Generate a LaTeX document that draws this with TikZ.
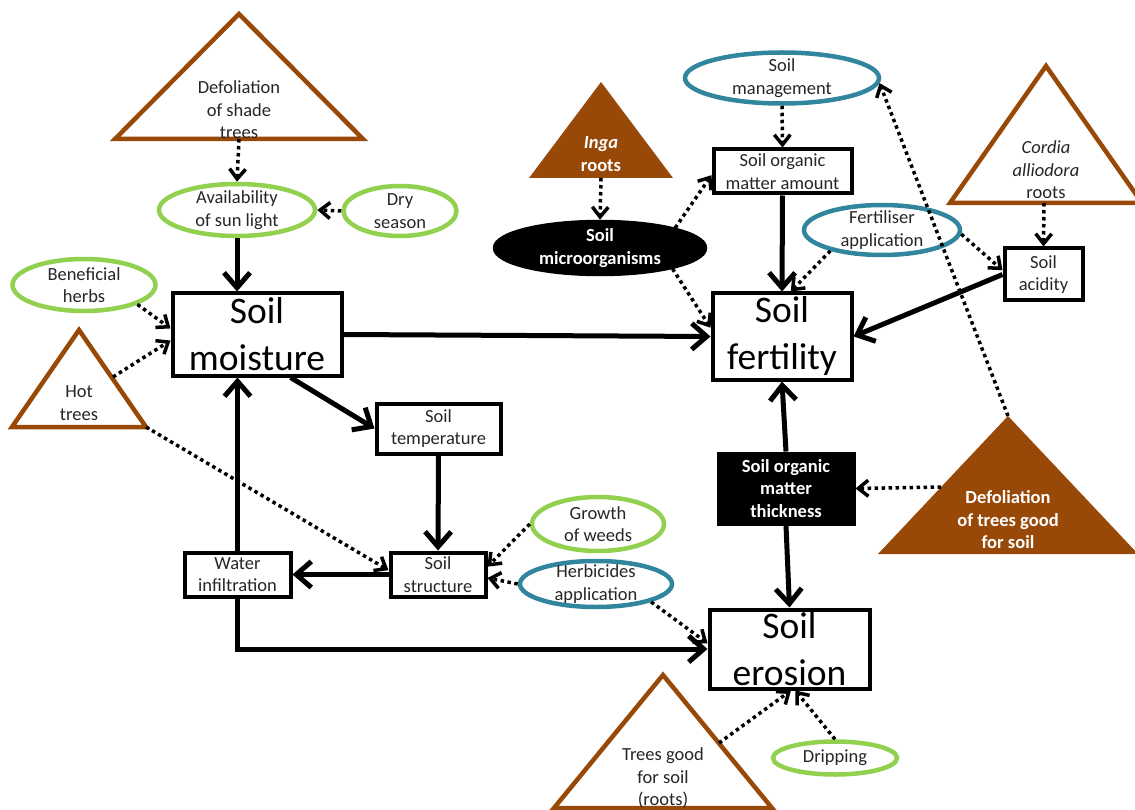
\documentclass[tikz,border=0pt]{standalone}
\usepackage{fontspec}
\setmainfont{Carlito}
\usetikzlibrary{arrows.meta,shapes.geometric,calc}

\definecolor{treebrown}{HTML}{984807}
\definecolor{herbgreen}{HTML}{92D050}
\definecolor{mgmtblue}{HTML}{31859C}

\tikzset{
  txt/.style = {font = \fontsize{18.5}{22.5}\selectfont, text = black!85, align = center},
  factor/.style = {draw, line width = 4pt, inner sep = 0pt, txt},
  mainfactor/.style = {factor, text = black, font = \fontsize{37.5}{47}\selectfont},
  darkfactor/.style = {factor, fill = black, text = white,
    font = \fontsize{18.5}{22.5}\selectfont\bfseries},
  oval/.style = {ellipse, draw, line width = 4.5pt, inner sep = 0pt},
  greenoval/.style = {oval, draw = herbgreen},
  blueoval/.style = {oval, draw = mgmtblue},
  tree/.style = {draw = treebrown, fill = white, line width = 4.5pt},
  effect/.style = {-{Straight Barb[length = 15pt, width = 26pt]}, line width = 5pt},
  link/.style = {-{Straight Barb[length = 10pt, width = 16pt]}, line width = 3.5pt,
    dash pattern = on 3.5pt off 3.5pt}
}

\begin{document}
\begin{tikzpicture}[x = 1pt, y = -1pt]
  \useasboundingbox (0, 0) rectangle (1135, 810);

  % trees
  \draw[tree] (239, 14) -- (363, 139) -- (115, 139) -- cycle;
  \node[txt] (shade) at (239, 110) {Defoliation\\of shade\\trees};
  \coordinate (shadeB) at (239, 139);

  \draw[tree] (79, 330) -- (146, 427) -- (12, 427) -- cycle;
  \node[txt] (hot) at (79, 403) {Hot\\trees};
  \coordinate (hotR) at (113, 377);
  \coordinate (hotC) at (146, 427);

  \fill[treebrown] (601, 82) -- (673, 178) -- (529, 178) -- cycle;
  \node[txt, text = white, font = \fontsize{18.5}{22.5}\selectfont\bfseries]
    (inga) at (601, 154) {\textit{Inga}\\roots};
  \coordinate (ingaB) at (601, 178);

  \draw[tree] (1046, 66) -- (1142, 203) -- (950, 203) -- cycle;
  \node[txt] (cordia) at (1046, 170) {\textit{Cordia}\\\textit{alliodora}\\roots};
  \coordinate (cordB) at (1044, 203);

  \fill[treebrown] (1008, 416) -- (1138, 554) -- (878, 554) -- cycle;
  \node[txt, text = white, font = \fontsize{18.5}{22.5}\selectfont\bfseries]
    (good) at (1008, 520) {Defoliation\\of trees good\\for soil};
  \coordinate (goodA) at (1008, 416);
  \coordinate (goodL) at (941, 487);

  \draw[tree] (663, 675) -- (772, 808) -- (554, 808) -- cycle;
  \node[txt] (roots) at (663, 778) {Trees good\\for soil\\(roots)};
  \coordinate (rootR) at (719, 743);

  % boxes
  \node[mainfactor, minimum width = 169pt, minimum height = 82pt] (moist) at (257, 334.5) {Soil\\moisture};
  \node[mainfactor, minimum width = 139pt, minimum height = 86pt] (fert) at (782, 336.5) {Soil\\fertility};
  \node[mainfactor, minimum width = 160pt, minimum height = 79pt] (eros) at (789.5, 649) {Soil\\erosion};
  \node[factor, minimum width = 124pt, minimum height = 50pt] (temp) at (438.5, 428.5) {Soil\\temperature};
  \node[factor, minimum width = 106pt, minimum height = 44pt] (infil) at (237.5, 574.5) {Water\\infiltration};
  \node[factor, minimum width = 95pt, minimum height = 44pt] (struct) at (438, 574.5) {Soil\\structure};
  \node[factor, minimum width = 138pt, minimum height = 44pt] (soma) at (782.5, 171.5) {Soil organic\\matter amount};
  \node[factor, minimum width = 78pt, minimum height = 52pt] (acid) at (1043.5, 274.5) {Soil\\acidity};
  \node[darkfactor, minimum width = 135pt, minimum height = 70pt] (somt) at (786, 488.5) {Soil organic\\matter\\thickness};

  % ovals
  \node[greenoval, minimum width = 156pt, minimum height = 52pt,
    label = {[txt]center:{Availability\\of sun light}}] (sun) at (237, 210) {};
  \node[greenoval, minimum width = 113pt, minimum height = 50pt,
    label = {[txt]center:{Dry\\season}}] (dry) at (400, 211) {};
  \node[greenoval, minimum width = 143pt, minimum height = 52pt,
    label = {[txt]center:{Beneficial\\herbs}}] (herbs) at (84, 285) {};
  \node[oval, fill = black, minimum width = 210pt, minimum height = 52pt,
    label = {[txt, text = white, font = \fontsize{18.5}{22.5}\selectfont\bfseries]center:{Soil\\microorganisms}}]
    (microb) at (600, 248) {};
  \node[blueoval, minimum width = 194pt, minimum height = 51pt,
    label = {[txt]center:{Soil\\management}}] (manage) at (782, 78) {};
  \node[blueoval, minimum width = 156pt, minimum height = 50pt,
    label = {[txt]center:{Fertiliser\\application}}] (fertil) at (882, 230) {};
  \node[greenoval, minimum width = 132pt, minimum height = 54pt,
    label = {[txt]center:{Growth\\of weeds}}] (weeds) at (598, 524) {};
  \node[blueoval, minimum width = 152pt, minimum height = 46pt,
    label = {[txt]center:{Herbicides\\application}}] (herbic) at (596, 584) {};
  \node[greenoval, minimum width = 124pt, minimum height = 33pt,
    label = {[txt]center:{Dripping}}] (drip) at (835, 758) {};

  % strong effects
  \draw[effect] (sun.south) -- (sun.south |- moist.north);
  \draw[effect] (moist.east) -- (fert.west);
  \draw[effect] (moist.-52) -- (temp.west);
  \draw[effect] (temp.south) -- (struct.north);
  \draw[effect] (struct.west) -- (infil.east);
  \draw[effect] (infil.north) -- (infil.north |- moist.south);
  \draw[effect] (infil.south) |- (eros.west);
  \draw[effect] (soma.south) -- (fert.north);
  \draw[effect] (acid.west) -- (fert.east);
  \draw[effect] (somt.north) -- (fert.south);
  \draw[effect] (somt.south) -- (eros.north);

  % weak links
  \draw[link] (shadeB) -- (sun.north);
  \draw[link] (dry.west) -- (sun.east);
  \draw[link] (herbs.-20) -- (moist.176);
  \draw[link] (hotR) -- (moist.184);
  \draw[link] (hotC) -- (struct.175);
  \draw[link] (weeds.west) -- (struct.9);
  \draw[link] (herbic.west) -- (struct.-4);
  \draw[link] (herbic.-18) -- (eros.176);
  \draw[link] (ingaB) -- (microb.north);
  \draw[link] (microb.-16) -- (fert.173);
  \draw[link] (microb.15) -- (soma.183);
  \draw[link] (manage.south) -- (soma.north);
  \draw[link] (fertil.202) -- (fert.79);
  \draw[link] (fertil.-3) -- (acid.174);
  \draw[link] (cordB) -- (acid.north);
  \draw[link] (goodA) -- (manage.-3);
  \draw[link] (goodL) -- (somt.east);
  \draw[link] (rootR) -- (eros.-88);
  \draw[link] (drip.north) -- (eros.-82);
\end{tikzpicture}
\end{document}
